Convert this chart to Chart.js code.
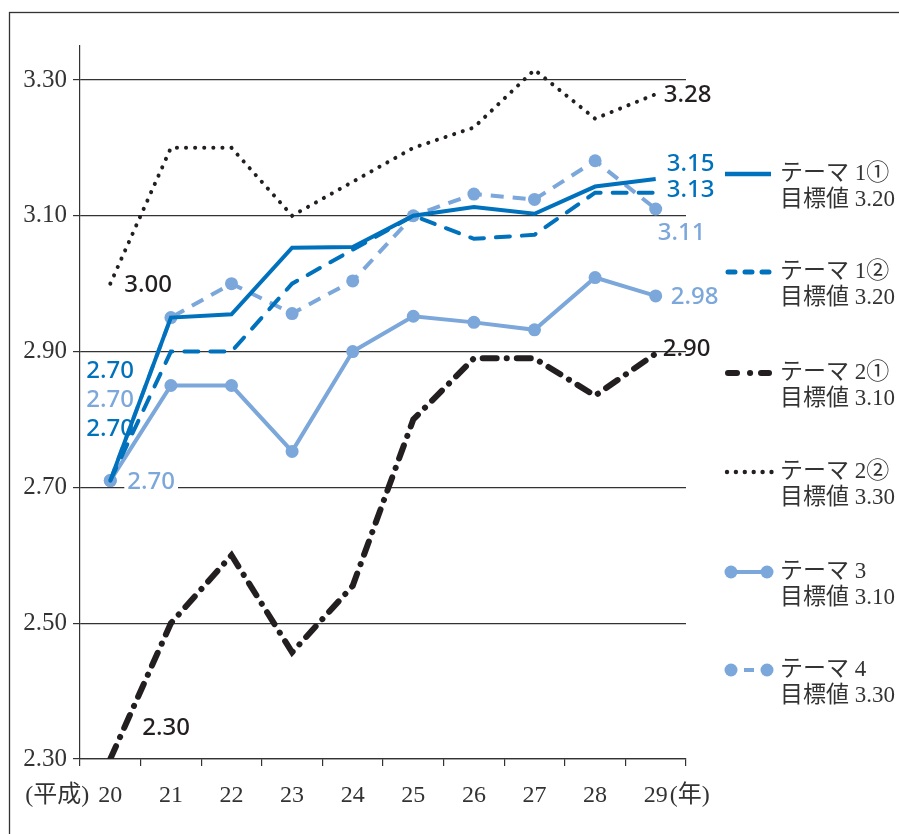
<!DOCTYPE html>
<html lang="ja">
<head>
<meta charset="utf-8">
<script src="https://cdn.jsdelivr.net/npm/chart.js@4.4.1/dist/chart.umd.min.js"></script>
<style>
  html, body { margin: 0; padding: 0; background: #fff; }
  #wrap { position: relative; width: 899px; height: 834px; }
</style>
</head>
<body>
<div id="wrap"><canvas id="grafico" width="899" height="834"></canvas></div>
<script>
// dados (平成20〜29年)
const anos = ['20', '21', '22', '23', '24', '25', '26', '27', '28', '29'];
const tema1a = [2.71, 2.95, 2.955, 3.053, 3.054, 3.10, 3.113, 3.103, 3.143, 3.154];
const tema1b = [2.71, 2.90, 2.90, 3.00, 3.05, 3.10, 3.066, 3.072, 3.134, 3.134];
const tema2a = [2.30, 2.50, 2.60, 2.457, 2.555, 2.80, 2.89, 2.89, 2.835, 2.897];
const tema2b = [3.00, 3.20, 3.20, 3.10, 3.15, 3.20, 3.23, 3.315, 3.243, 3.279];
const tema3 = [2.71, 2.85, 2.85, 2.753, 2.90, 2.952, 2.943, 2.932, 3.009, 2.982];
const tema4 = [2.71, 2.95, 3.00, 2.956, 3.004, 3.10, 3.132, 3.124, 3.181, 3.11];
const nomes = ['テーマ 1①', 'テーマ 1②', 'テーマ 2①', 'テーマ 2②', 'テーマ 3', 'テーマ 4'];
const metas = ['目標値 3.20', '目標値 3.20', '目標値 3.10', '目標値 3.30', '目標値 3.10', '目標値 3.30'];
const ticksY = [2.30, 2.50, 2.70, 2.90, 3.10, 3.30];
const rotulosInicio = ['2.70', '2.70', '2.30', '3.00', '2.70', '2.70'];
const rotulosFim = ['3.15', '3.13', '2.90', '3.28', '2.98', '3.11'];

const azul = '#0071bc';
const azulClaro = '#7ba7da';
const preto = '#231f20';
const cores = [azul, azul, preto, preto, azulClaro, azulClaro];

const fonteSerif = '"Liberation Serif", "Noto Sans CJK JP", serif';
const fonteRotulo = '"Noto Sans", "DejaVu Sans", sans-serif';

// deslocamentos dos rótulos em relação ao primeiro / último ponto
const desloc = {
  inicio: [[-24, -109], [-24, -51], [32, -31], [14, 1], [-24, -80], [17, 2]],
  fim: [[11, -15], [11, -3], [7, -4], [8, 1], [15, 1], [2, 24]]
};

// moldura, rótulos de valores e legenda
const extras = {
  id: 'extras',
  beforeDraw(chart) {
    const c = chart.ctx;
    c.save();
    c.fillStyle = '#fff';
    c.fillRect(0, 0, chart.width, chart.height);
    c.strokeStyle = '#333';
    c.lineWidth = 1.3;
    c.strokeRect(9.5, 12.5, 1000, 1000);
    c.restore();
  },
  afterDraw(chart) {
    const c = chart.ctx;
    c.save();
    c.font = '500 24px ' + fonteRotulo;
    c.textBaseline = 'middle';
    c.textAlign = 'left';
    chart.data.datasets.forEach((ds, i) => {
      const pts = chart.getDatasetMeta(i).data;
      const p0 = pts[0], p1 = pts[pts.length - 1];
      c.fillStyle = cores[i];
      let x = p0.x + desloc.inicio[i][0], y = p0.y + desloc.inicio[i][1];
      if (i === 5) {
        const w = c.measureText(rotulosInicio[i]).width;
        c.fillStyle = '#fff';
        c.fillRect(x - 3, y - 10, w + 6, 20);
        c.fillStyle = cores[i];
      }
      c.fillText(rotulosInicio[i], x, y);
      c.fillText(rotulosFim[i], p1.x + desloc.fim[i][0], p1.y + desloc.fim[i][1]);
    });

    // prefixo e sufixo do eixo x
    const xs = chart.scales.x;
    c.font = '24px ' + fonteSerif;
    c.fillStyle = '#333';
    c.textAlign = 'right';
    c.fillText('(平成)', xs.getPixelForValue(0) - 21, 796);
    c.textAlign = 'left';
    c.fillText('(年)', xs.getPixelForValue(9) + 14, 796);

    // legenda
    const ys = [174, 272, 373, 472, 572, 670];
    ys.forEach((y, i) => {
      c.strokeStyle = cores[i];
      c.fillStyle = cores[i];
      c.setLineDash([]);
      c.lineCap = 'butt';
      if (i === 0) {
        c.lineWidth = 4.5;
        c.beginPath(); c.moveTo(725, y); c.lineTo(771, y); c.stroke();
      } else if (i === 1) {
        c.lineWidth = 5; c.lineCap = 'round';
        c.setLineDash([7, 10]);
        c.beginPath(); c.moveTo(728, y); c.lineTo(770, y); c.stroke();
      } else if (i === 2) {
        c.lineWidth = 6; c.lineCap = 'round';
        c.beginPath(); c.moveTo(728, y); c.lineTo(737, y); c.stroke();
        c.beginPath(); c.moveTo(750, y); c.lineTo(750.1, y); c.stroke();
        c.beginPath(); c.moveTo(761, y); c.lineTo(769, y); c.stroke();
      } else if (i === 3) {
        for (let k = 0; k < 6; k++) {
          c.beginPath(); c.arc(727 + k * 8.9, y, 2.2, 0, Math.PI * 2); c.fill();
        }
      } else if (i === 4) {
        c.lineWidth = 4;
        c.beginPath(); c.moveTo(731, y); c.lineTo(767, y); c.stroke();
        [731, 767].forEach(px => { c.beginPath(); c.arc(px, y, 6.5, 0, Math.PI * 2); c.fill(); });
      } else {
        c.lineWidth = 4;
        c.beginPath(); c.moveTo(744, y); c.lineTo(754, y); c.stroke();
        [731, 767].forEach(px => { c.beginPath(); c.arc(px, y, 6.5, 0, Math.PI * 2); c.fill(); });
      }
      c.fillStyle = '#333';
      c.font = '23px ' + fonteSerif;
      c.textAlign = 'left';
      c.fillText(nomes[i], 780, y);
      c.fillText(metas[i], 780, y + 26);
    });
    c.restore();
  }
};

const linha = (label, data, cor, extra) => Object.assign({
  label, data,
  borderColor: cor,
  backgroundColor: cor,
  borderWidth: 4,
  pointRadius: 0,
  pointHoverRadius: 0,
  tension: 0,
  fill: false
}, extra);

const ctx = document.getElementById('grafico').getContext('2d');
const grafico = new Chart(ctx, {
  type: 'line',
  data: {
    labels: anos,
    datasets: [
      linha(nomes[0], tema1a, azul, {}),
      linha(nomes[1], tema1b, azul, { borderCapStyle: 'round', borderDash: [14, 12] }),
      linha(nomes[2], tema2a, preto, { borderWidth: 6, borderCapStyle: 'round', borderDash: [14, 10, 0.1, 10] }),
      linha(nomes[3], tema2b, preto, { borderWidth: 4, borderCapStyle: 'round', borderDash: [0.1, 9] }),
      linha(nomes[4], tema3, azulClaro, { pointRadius: 6.5, pointBorderWidth: 0, pointBackgroundColor: azulClaro }),
      linha(nomes[5], tema4, azulClaro, { borderDash: [13, 9], pointRadius: 6.5, pointBorderWidth: 0, pointBackgroundColor: azulClaro })
    ]
  },
  options: {
    responsive: false,
    animation: false,
    events: [],
    layout: { padding: { left: 0, right: 213, top: 46, bottom: 0 } },
    plugins: {
      legend: { display: false },
      tooltip: { enabled: false }
    },
    scales: {
      x: {
        type: 'category',
        offset: true,
        afterFit: (s) => { s.height = 75; },
        grid: {
          offset: true,
          drawOnChartArea: false,
          tickLength: 7,
          color: '#333',
          lineWidth: 1.2
        },
        border: { color: '#333', width: 1.2 },
        ticks: {
          font: { family: fonteSerif, size: 24 },
          color: '#333',
          padding: 15,
          maxRotation: 0
        }
      },
      y: {
        min: 2.30,
        max: 3.35,
        afterFit: (s) => { s.width = 80; },
        afterBuildTicks: (s) => { s.ticks = ticksY.map(v => ({ value: v })); },
        grid: {
          color: '#333',
          lineWidth: 1.2,
          tickLength: 7
        },
        border: { color: '#333', width: 1.2 },
        ticks: {
          font: { family: fonteSerif, size: 25 },
          color: '#333',
          padding: 6,
          callback: (v) => Number(v).toFixed(2)
        }
      }
    }
  },
  plugins: [extras]
});
</script>
</body>
</html>
